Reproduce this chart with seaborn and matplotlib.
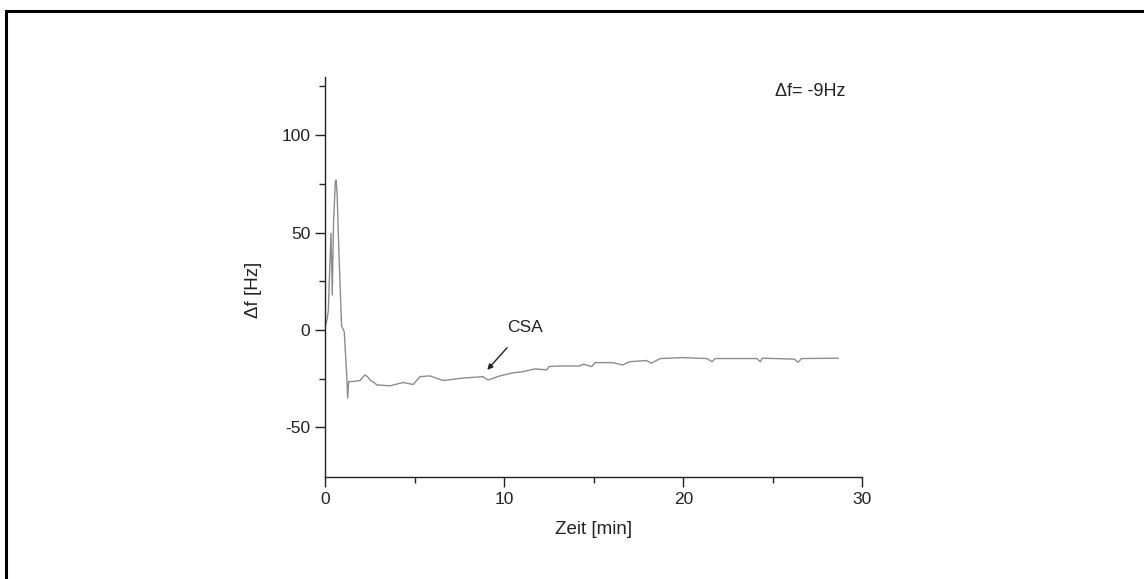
import matplotlib
matplotlib.use("Agg")
import matplotlib.pyplot as plt
import seaborn as sns
import pandas as pd
from matplotlib.patches import Rectangle

# ---- data ----
zeit_min = [0.0, 0.1, 0.16, 0.25, 0.31, 0.38, 0.45, 0.55, 0.59, 0.65, 0.75, 0.9, 1.05,
            1.18, 1.24, 1.30, 1.5, 1.93, 2.2, 2.35, 2.49, 2.77, 2.86, 3.6, 4.33, 4.9,
            5.28, 5.84, 6.57, 7.7, 8.8, 9.08, 9.75, 10.5, 11.0, 11.7, 12.36, 12.5,
            13.1, 14.2, 14.4, 14.87, 15.06, 16.06, 16.6, 17.0, 17.94, 18.2, 18.7,
            19.97, 21.3, 21.6, 21.76, 24.1, 24.3, 24.4, 26.2, 26.4, 26.6, 28.65]
delta_f_hz = [2, 6, 10, 35, 49.6, 18, 55, 76, 77, 70, 40, 2, -0.9,
              -22, -35, -26.5, -26.5, -26, -23.1, -24, -25.7, -27.4, -28.2, -28.7, -27, -28,
              -24, -23.6, -26, -24.7, -24, -25.7, -23.6, -22, -21.5, -20, -20.5, -18.8,
              -18.5, -18.5, -17.6, -18.8, -16.8, -16.8, -18, -16.3, -15.7, -17.1, -14.7,
              -14.2, -14.7, -16.3, -14.7, -14.7, -16.3, -14.5, -15, -16.6, -14.7, -14.5]

x_ticks = [0, 10, 20, 30]
y_ticks = [-50, 0, 50, 100]
annotation_text = "CSA"
info_text = "\u0394f= -9Hz"

df = pd.DataFrame({"Zeit": zeit_min, "df": delta_f_hz})

sns.set_theme(style="ticks")
plt.rcParams["font.family"] = ["Liberation Sans", "DejaVu Sans"]
plt.rcParams["axes.unicode_minus"] = False

fig = plt.figure(figsize=(11.44, 5.79), dpi=100)
ax = fig.add_axes([0.2845, 0.1762, 0.4694, 0.6913])

sns.lineplot(data=df, x="Zeit", y="df", ax=ax, color="#8c8c8c", linewidth=1.0,
             estimator=None, sort=False)

ax.set_xlim(0, 30)
ax.set_ylim(-75.5, 130)
ax.set_xticks(x_ticks)
ax.set_yticks(y_ticks)
ax.set_xticks([5, 15, 25], minor=True)
ax.set_yticks([-25, 25, 75, 125], minor=True)
ax.tick_params(axis="both", which="major", direction="out", length=7, width=1,
               labelsize=12.5, colors="#222222", pad=4)
ax.tick_params(axis="both", which="minor", direction="out", length=4, width=1)
for s in ["top", "right"]:
    ax.spines[s].set_visible(False)
for s in ["left", "bottom"]:
    ax.spines[s].set_linewidth(1.0)
    ax.spines[s].set_color("#222222")

ax.set_xlabel("Zeit [min]", fontsize=13.5, color="#222222")
ax.set_ylabel("\u0394f [Hz]", fontsize=13.5, color="#222222")
ax.yaxis.set_label_coords(-0.118, 0.4675)
ax.xaxis.set_label_coords(0.5, -0.11)

ax.annotate(annotation_text, xy=(9.04, -20.5), xytext=(11.15, 1.2),
            ha="center", va="center", fontsize=12.5, color="#222222",
            arrowprops=dict(arrowstyle="-|>", color="#222222", lw=1.0,
                            mutation_scale=8, shrinkA=9, shrinkB=0))
ax.text(25.1, 122.3, info_text, ha="left", va="center", fontsize=13, color="#222222")

# outer frame (only left and top edges visible in the reference)
fig.patches.append(Rectangle((6 / 1144, -0.5), 2.0, 1 - 11 / 579 + 0.5,
                             transform=fig.transFigure, fill=False,
                             edgecolor="black", linewidth=2.2))

fig.savefig("out.png", dpi=100, facecolor="white")
